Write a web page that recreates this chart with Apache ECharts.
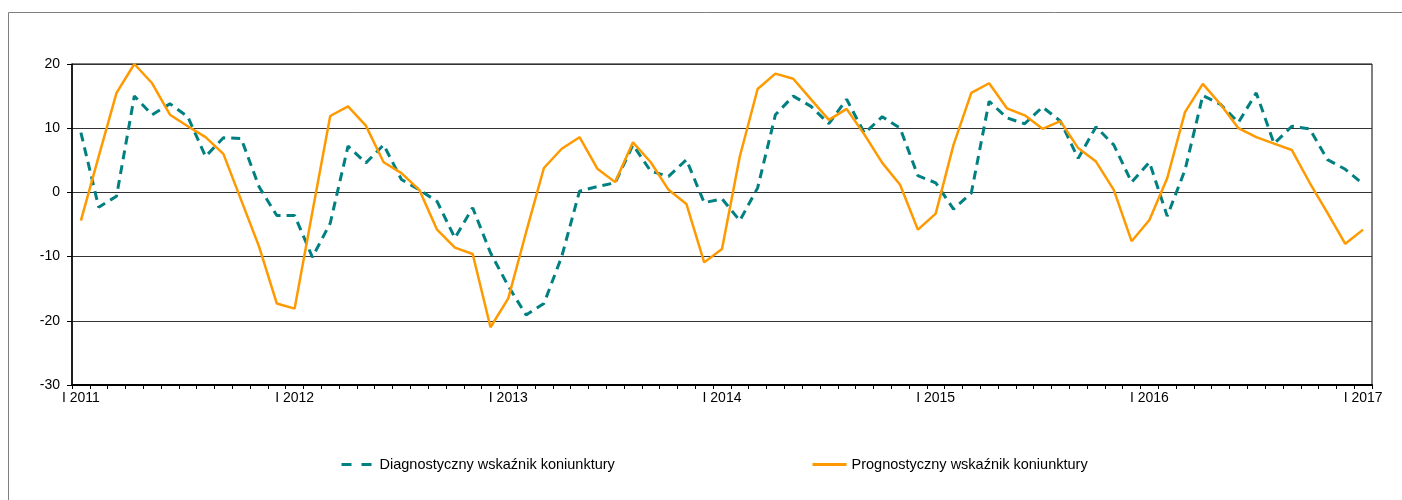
<!DOCTYPE html>
<html>
<head>
<meta charset="utf-8">
<script src="https://cdn.jsdelivr.net/npm/echarts@6/dist/echarts.min.js"></script>
<style>
  html, body { margin: 0; padding: 0; background: #fff; }
  #main { width: 1402px; height: 500px; }
</style>
</head>
<body>
<div id="main"></div>
<script>
// miesiące I 2011 - I 2017
var months = ['I','II','III','IV','V','VI','VII','VIII','IX','X','XI','XII'];
var years = [2011, 2012, 2013, 2014, 2015, 2016, 2017];

var diagnostyczny = [
  9.3, -2.3, -0.6, 15.0, 12.1, 13.8, 11.8, 5.6, 8.5, 8.4, 0.9, -3.6,
  -3.6, -10.1, -4.8, 7.2, 4.6, 7.4, 2.0, 0.4, -1.4, -7.1, -2.4, -9.4,
  -14.6, -19.1, -17.3, -10.0, 0.2, 0.9, 1.5, 7.4, 3.3, 2.5, 5.1, -1.6,
  -1.0, -4.4, 0.7, 12.1, 15.0, 13.4, 10.7, 14.5, 9.2, 11.8, 10.0, 2.6,
  1.5, -2.6, -0.1, 14.2, 11.6, 10.7, 13.3, 11.1, 5.3, 10.2, 7.4, 1.6,
  4.7, -3.7, 3.5, 15.1, 13.7, 10.9, 15.5, 7.6, 10.3, 9.9, 5.1, 3.6,
  1.3
];

var prognostyczny = [
  -4.4, 5.6, 15.5, 20.0, 17.0, 12.1, 10.3, 8.6, 6.0, -1.2, -8.4, -17.3,
  -18.1, -3.0, 11.9, 13.4, 10.4, 4.7, 3.0, 0.4, -5.8, -8.6, -9.6, -21.0,
  -16.5, -6.2, 3.8, 6.8, 8.6, 3.7, 1.6, 7.8, 4.7, 0.4, -1.8, -10.9,
  -8.8, 5.6, 16.1, 18.5, 17.7, 14.5, 11.3, 13.0, 9.0, 4.6, 1.2, -5.8,
  -3.3, 7.4, 15.5, 17.0, 13.1, 12.0, 9.9, 11.1, 6.9, 4.8, 0.4, -7.6,
  -4.3, 2.2, 12.5, 16.9, 13.7, 10.0, 8.6, 7.6, 6.6, 1.5, -3.2, -8.0,
  -5.8
];

var categories = [];
for (var i = 0; i < diagnostyczny.length; i++) {
  categories.push(months[i % 12] + ' ' + years[Math.floor(i / 12)]);
}

var fontFamily = 'Liberation Sans, Arial, sans-serif';

var myChart = echarts.init(document.getElementById('main'));
myChart.setOption({
  animation: false,
  //ramka wokół wykresu
  graphic: [{
    type: 'rect',
    shape: { x: 8.5, y: 12.5, width: 1400, height: 500 },
    style: { fill: 'none', stroke: '#7f7f7f', lineWidth: 1 },
    silent: true
  }],
  grid: {
    left: 72, right: 30, top: 64, bottom: 115,
    show: true,
    borderColor: '#000',
    borderWidth: 1
  },
  legend: [{
    data: ['Diagnostyczny wskaźnik koniunktury'],
    left: 335, top: 452,
    itemWidth: 30, itemHeight: 14,
    itemStyle: { opacity: 0 },
    lineStyle: { type: [10, 10], width: 3 },
    textStyle: { fontFamily: fontFamily, fontSize: 14.5, color: '#000', padding: [0, 0, 0, 3] }
  }, {
    data: ['Prognostyczny wskaźnik koniunktury'],
    left: 806, top: 452,
    itemWidth: 34, itemHeight: 14,
    itemStyle: { opacity: 0 },
    lineStyle: { width: 3 },
    textStyle: { fontFamily: fontFamily, fontSize: 14.5, color: '#000' }
  }],
  xAxis: {
    type: 'category',
    data: categories,
    boundaryGap: true,
    axisLine: { onZero: false, lineStyle: { color: '#000', width: 2 } },
    axisTick: { show: true, interval: 0, length: 4, lineStyle: { color: '#000' } },
    axisLabel: {
      interval: 11,
      margin: 6,
      color: '#000',
      fontFamily: fontFamily,
      fontSize: 14
    },
    splitLine: { show: false }
  },
  yAxis: {
    type: 'value',
    min: -30, max: 20, interval: 10,
    axisLine: { show: true, lineStyle: { color: '#000', width: 1.5 } },
    axisTick: { show: true, length: 5, lineStyle: { color: '#000' } },
    axisLabel: {
      margin: 12,
      color: '#000',
      fontFamily: fontFamily,
      fontSize: 14
    },
    splitLine: { show: true, lineStyle: { color: '#333', width: 1 } }
  },
  series: [{
    name: 'Diagnostyczny wskaźnik koniunktury',
    type: 'line',
    data: diagnostyczny,
    symbol: 'none',
    color: '#008080',
    lineStyle: { color: '#008080', width: 3, type: [9, 6] }
  }, {
    name: 'Prognostyczny wskaźnik koniunktury',
    type: 'line',
    data: prognostyczny,
    symbol: 'none',
    color: '#ff9900',
    lineStyle: { color: '#ff9900', width: 2.5 }
  }]
});
</script>
</body>
</html>
